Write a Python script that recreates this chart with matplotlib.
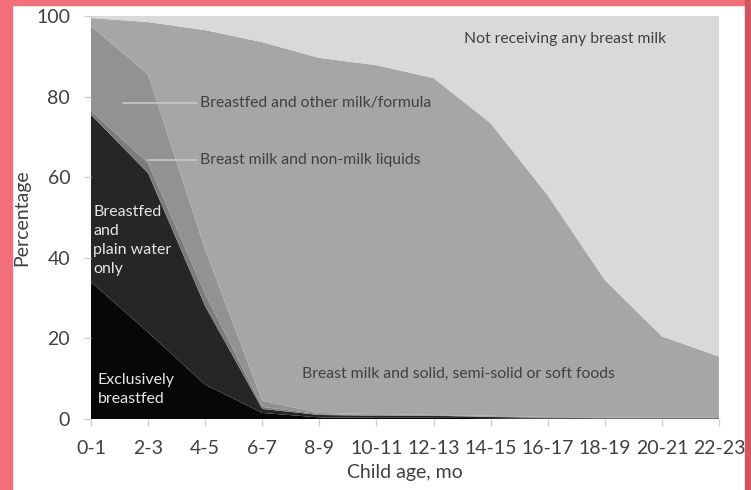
import matplotlib
matplotlib.use("Agg")
import matplotlib.pyplot as plt
from matplotlib.patches import Rectangle

plt.rcParams['font.family'] = ['Lato', 'DejaVu Sans']

# age groups, months
ages = ["0-1", "2-3", "4-5", "6-7", "8-9", "10-11", "12-13",
        "14-15", "16-17", "18-19", "20-21", "22-23"]

# percent of children in each feeding group
exclusive = [34.0, 21.5, 8.5, 1.5, 0.4, 0.3, 0.3, 0.2, 0.1, 0.1, 0.1, 0.1]
plain_water = [41.5, 39.5, 19.5, 1.0, 0.6, 0.5, 0.5, 0.3, 0.2, 0.1, 0.1, 0.1]
non_milk = [1.0, 2.5, 3.0, 0.5, 0.2, 0.2, 0.1, 0.1, 0.1, 0.1, 0.1, 0.0]
formula = [21.0, 22.0, 11.0, 1.5, 0.3, 0.2, 0.1, 0.2, 0.1, 0.1, 0.0, 0.1]
solids = [2.0, 13.0, 54.5, 89.0, 88.1, 86.6, 83.6, 72.6, 55.0, 34.1, 20.2, 15.2]
no_breast = [0.5, 1.5, 3.5, 6.5, 10.4, 12.2, 15.4, 26.6, 44.5, 65.5, 79.5, 84.5]

colors = ["#070707", "#262626", "#7c7c7c", "#929292", "#a6a6a6", "#d9d9d9"]

fig = plt.figure(figsize=(7.51, 4.90), dpi=100)
fig.patch.set_facecolor("white")

# pink frame around the picture
fig.patches.append(Rectangle((0, 0), 12 / 751, 1, transform=fig.transFigure,
                             color="#f36f7a", zorder=-1))
fig.patches.append(Rectangle((0, 1 - 5 / 490), 1, 5 / 490, transform=fig.transFigure,
                             color="#f36f7a", zorder=-1))
fig.patches.append(Rectangle((1 - 6 / 751, 0), 6 / 751, 1, transform=fig.transFigure,
                             color="#cf5561", zorder=-1))

ax = fig.add_axes([91 / 751, 71 / 490, 628 / 751, 403 / 490])
x = list(range(len(ages)))
ax.stackplot(x, exclusive, plain_water, non_milk, formula, solids, no_breast,
             colors=colors, linewidth=0)

ax.set_xlim(0, len(ages) - 1)
ax.set_ylim(0, 100)
ax.set_xticks(x)
ax.set_xticklabels(ages)
ax.set_yticks([0, 20, 40, 60, 80, 100])
ax.tick_params(axis="both", labelsize=14, colors="#d0d0d0", length=5, width=1,
               labelcolor="#404040")
ax.tick_params(axis="x", pad=10)
ax.tick_params(axis="y", pad=10)
for s in ax.spines.values():
    s.set_visible(False)

ax.set_xlabel("Child age, mo", fontsize=14, color="#404040", labelpad=5)
ax.set_ylabel("Percentage", fontsize=14, color="#404040", labelpad=4)

# labels inside the chart
lab = dict(fontsize=11.3, color="#404040", va="center")
ax.text(6.53, 94.3, "Not receiving any breast milk", **lab)
ax.text(1.91, 78.3, "Breastfed and other milk/formula", **lab)
ax.text(1.91, 64.2, "Breast milk and non-milk liquids", **lab)
ax.text(3.69, 11.2, "Breast milk and solid, semi-solid or soft foods", **lab)
ax.plot([0.56, 1.86], [78.3, 78.3], color="#c8c8c8", lw=1.2)
ax.plot([1.0, 1.86], [64.2, 64.2], color="#c8c8c8", lw=1.2)

wlab = dict(fontsize=11.5, color="#e6e6e6", va="top", linespacing=1.45)
ax.text(0.04, 53.0, "Breastfed\nand\nplain water\nonly", **wlab)
ax.text(0.12, 11.5, "Exclusively\nbreastfed", **wlab)

fig.savefig("out.png", dpi=100)
